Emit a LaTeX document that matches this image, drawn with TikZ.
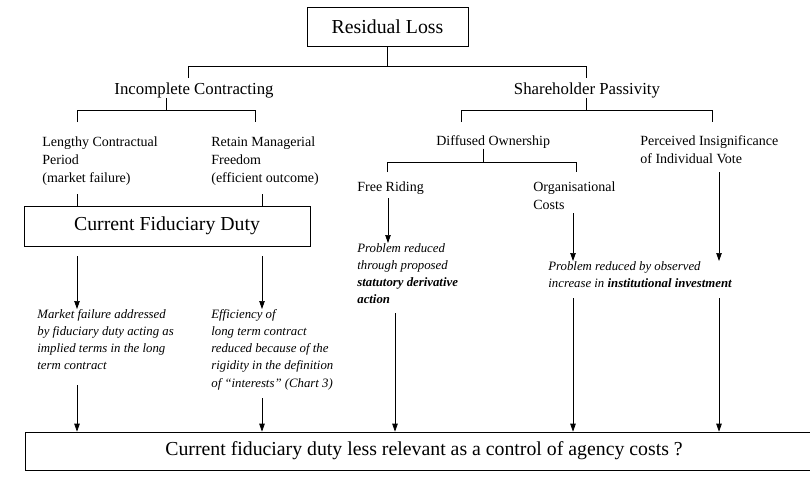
\documentclass[tikz,border=0pt]{standalone}
\usepackage{fontspec}
\setmainfont{Liberation Serif}
\usetikzlibrary{arrows.meta}

\begin{document}
\begin{tikzpicture}[x=1pt, y=-1pt, line width=0.7pt,
    box/.style={draw, inner sep=0pt, font=\fontsize{19.8}{22}\selectfont},
    head/.style={inner sep=0pt, font=\fontsize{16.8}{20}\selectfont},
    item/.style={inner sep=0pt, anchor=north west, align=left, font=\fontsize{14}{18}\selectfont},
    note/.style={inner sep=0pt, anchor=north west, align=left, font=\fontsize{12.8}{17.2}\selectfont\itshape},
    arr/.style={-{Triangle[width=5.5pt,length=8pt]}}]
    \useasboundingbox (0,0) rectangle (810,480);

    % Boxes
    \node[box, minimum width=161pt, minimum height=39pt] (rl) at (387.5,26.5) {Residual Loss};
    \node[box, minimum width=286pt, minimum height=40pt] (cfd) at (167,226) {Current Fiduciary Duty};
    \node[box, minimum width=798pt, minimum height=38pt] (cl) at (424,451) {Current fiduciary duty less relevant as a control of agency costs ?};

    % Headings
    \node[head] (ic) at (194,90) {Incomplete Contracting};
    \node[head] (sp) at (587,90) {Shareholder Passivity};

    % Branch labels
    \node[item] (lcp) at (42,136) {Lengthy Contractual\\Period\\(market failure)};
    \node[item] (rmf) at (211,136) {Retain Managerial\\Freedom\\(efficient outcome)};
    \node[item] (do) at (436,135) {Diffused Ownership};
    \node[item] (piv) at (640,135) {Perceived Insignificance\\of Individual Vote};
    \node[item] (fr) at (357,181) {Free Riding};
    \node[item] (oc) at (533,181) {Organisational\\Costs};

    % Italic notes
    \node[note] (mf) at (37,309) {Market failure addressed\\by fiduciary duty acting as\\implied terms in the long\\term contract};
    \node[note] (eff) at (211,309) {Efficiency of\\long term contract\\reduced because of the\\rigidity in the definition\\of ``interests'' (Chart 3)};
    \node[note] (pr1) at (357,243) {Problem reduced\\through proposed\\\textbf{statutory derivative}\\\textbf{action}};
    \node[note] (pr2) at (548,261) {Problem reduced by observed\\increase in \textbf{institutional investment}};

    % Bracket under Residual Loss
    \coordinate (a0) at (387.5,66);
    \coordinate (a1) at (188,66);
    \coordinate (a2) at (586,66);
    \coordinate (a1e) at (188,78);
    \coordinate (a2e) at (586,78);
    \draw (rl.south) -- (a0);
    \draw (a1e) -- (a1) -- (a2) -- (a2e);

    % Bracket under Incomplete Contracting
    \coordinate (b0) at (166,110);
    \coordinate (b1) at (77,110);
    \coordinate (b2) at (255,110);
    \coordinate (b1e) at (77,122);
    \coordinate (b2e) at (255,122);
    \draw (ic.south -| b0) -- (b0);
    \draw (b1e) -- (b1) -- (b2) -- (b2e);

    % Bracket under Shareholder Passivity
    \coordinate (c0) at (586,110);
    \coordinate (c1) at (461,110);
    \coordinate (c2) at (712,110);
    \coordinate (c1e) at (461,122);
    \coordinate (c2e) at (712,122);
    \draw (sp.south -| c0) -- (c0);
    \draw (c1e) -- (c1) -- (c2) -- (c2e);

    % Bracket under Diffused Ownership
    \coordinate (d0) at (483,162);
    \coordinate (d1) at (387,162);
    \coordinate (d2) at (576,162);
    \coordinate (d1e) at (387,172);
    \coordinate (d2e) at (576,172);
    \draw (do.south -| d0) -- (d0);
    \draw (d1e) -- (d1) -- (d2) -- (d2e);

    % Lines into Current Fiduciary Duty
    \coordinate (e1) at (77,194);
    \coordinate (e2) at (262,194);
    \draw (e1) -- (cfd.north -| e1);
    \draw (e2) -- (cfd.north -| e2);

    % Arrows out of Current Fiduciary Duty
    \coordinate (f1) at (77,256);
    \coordinate (f2) at (262,256);
    \draw[arr] (f1) -- (mf.north -| f1);
    \draw[arr] (f2) -- (eff.north -| f2);

    % Arrows on the right side
    \coordinate (g1) at (388,198);
    \coordinate (g2) at (573,213);
    \coordinate (g3) at (719,172);
    \draw[arr] (g1) -- (pr1.north -| g1);
    \draw[arr] (g2) -- (pr2.north -| g2);
    \draw[arr] (g3) -- (pr2.north -| g3);

    % Arrows into the conclusion
    \coordinate (h1) at (77,385);
    \coordinate (h2) at (262,398);
    \coordinate (h3) at (395,313);
    \coordinate (h4) at (573,298);
    \coordinate (h5) at (719,298);
    \draw[arr] (h1) -- (cl.north -| h1);
    \draw[arr] (h2) -- (cl.north -| h2);
    \draw[arr] (h3) -- (cl.north -| h3);
    \draw[arr] (h4) -- (cl.north -| h4);
    \draw[arr] (h5) -- (cl.north -| h5);
\end{tikzpicture}
\end{document}
